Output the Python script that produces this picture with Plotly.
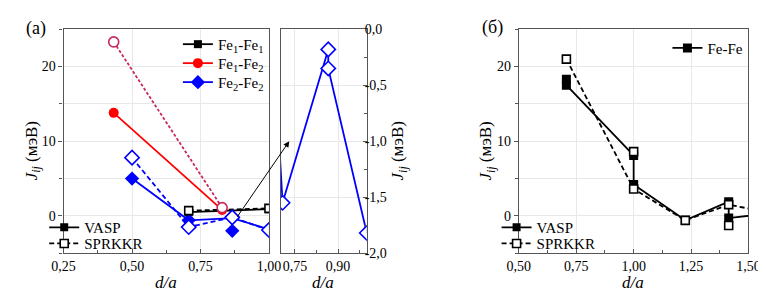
import plotly.graph_objects as go

# ---------------- data: panel (a) ----------------
fe11_x_vasp = [0.707, 1.0]
fe11_y_vasp = [0.5, 0.9]
fe11_x_spr = [0.707, 1.0]
fe11_y_spr = [0.7, 1.0]

fe12_x_vasp = [0.433, 0.829]
fe12_y_vasp = [13.8, 0.8]
fe12_x_spr = [0.433, 0.829]
fe12_y_spr = [23.3, 1.1]

fe22_x_vasp = [0.5, 0.707, 0.866, 1.0, None, 0.866]
fe22_y_vasp = [5.0, -0.6, -0.3, -1.8, None, -2.0]
fe22_x_spr = [0.5, 0.707, 0.866, 1.0]
fe22_y_spr = [7.8, -1.5, -0.2, -1.9]

# inset (zoom of Fe2-Fe2)
inset_x = [0.5, 0.707, 0.866, 0.866, 1.0]
inset_y = [7.8, -1.55, -0.18, -0.35, -1.82]
inset_ytick_vals = [0.0, -0.5, -1.0, -1.5, -2.0]
inset_ytick_text = ["0,0", "-0,5", "-1,0", "-1,5", "-2,0"]

# ---------------- data: panel (б) ----------------
fefe_x_vasp = [0.707, 0.707, 1.0, 1.0, 1.225, 1.414, 1.414, 1.581]
fefe_y_vasp = [18.3, 17.5, 8.1, 4.2, -0.6, 1.9, -0.3, 0.3]
fefe_x_spr = [0.707, 1.0, 1.225, 1.414, 1.581, None, 1.0, None, 1.414]
fefe_y_spr = [21.0, 3.6, -0.6, 1.5, 0.5, None, 8.6, None, -1.3]

FONT = "Liberation Serif, Times New Roman, DejaVu Serif, serif"
BLACK = "#000000"
RED = "#FF0000"
PINK = "#C8285F"
BLUE = "#0000FF"
DASH = "5px,3px"
DOT = "3px,2px"

fig = go.Figure()

def open_marker(sym, color, size):
    return dict(symbol=sym, size=size, color="white", line=dict(color=color, width=1.6))

def filled_marker(sym, color, size):
    return dict(symbol=sym, size=size, color=color, line=dict(color=color, width=0))

# ---- panel (a) traces ----
fig.add_trace(go.Scatter(x=fe11_x_vasp, y=fe11_y_vasp, mode="lines+markers",
                         line=dict(color=BLACK, width=1.8), marker=filled_marker("square", BLACK, 8),
                         name="Fe<sub>1</sub>-Fe<sub>1</sub>", legend="legend", xaxis="x", yaxis="y"))
fig.add_trace(go.Scatter(x=fe12_x_vasp, y=fe12_y_vasp, mode="lines+markers",
                         line=dict(color=RED, width=1.8), marker=filled_marker("circle", RED, 10),
                         name="Fe<sub>1</sub>-Fe<sub>2</sub>", legend="legend7", xaxis="x", yaxis="y"))
fig.add_trace(go.Scatter(x=fe22_x_vasp, y=fe22_y_vasp, mode="lines+markers",
                         line=dict(color=BLUE, width=1.8), marker=filled_marker("diamond", BLUE, 11),
                         name="Fe<sub>2</sub>-Fe<sub>2</sub>", legend="legend8", xaxis="x", yaxis="y"))
fig.add_trace(go.Scatter(x=fe11_x_spr, y=fe11_y_spr, mode="lines+markers",
                         line=dict(color=BLACK, width=1.8, dash=DASH), marker=open_marker("square", BLACK, 8),
                         showlegend=False, xaxis="x", yaxis="y"))
fig.add_trace(go.Scatter(x=fe12_x_spr, y=fe12_y_spr, mode="lines+markers",
                         line=dict(color=PINK, width=1.8, dash=DOT), marker=open_marker("circle", PINK, 10),
                         showlegend=False, xaxis="x", yaxis="y"))
fig.add_trace(go.Scatter(x=fe22_x_spr, y=fe22_y_spr, mode="lines+markers",
                         line=dict(color=BLUE, width=1.8, dash=DASH), marker=open_marker("diamond", BLUE, 11),
                         showlegend=False, xaxis="x", yaxis="y"))

# method keys for panel (a)
fig.add_trace(go.Scatter(x=[None], y=[None], mode="lines+markers", name="VASP",
                         line=dict(color=BLACK, width=1.8), marker=filled_marker("square", BLACK, 8),
                         legend="legend2", xaxis="x", yaxis="y"))
fig.add_trace(go.Scatter(x=[None], y=[None], mode="lines+markers", name="SPRKKR",
                         line=dict(color=BLACK, width=1.8, dash=DASH), marker=open_marker("square", BLACK, 8),
                         legend="legend5", xaxis="x", yaxis="y"))

# ---- inset ----
fig.add_trace(go.Scatter(x=inset_x, y=inset_y, mode="lines+markers",
                         line=dict(color=BLUE, width=1.8), marker=open_marker("diamond", BLUE, 11),
                         showlegend=False, xaxis="x2", yaxis="y2"))

# ---- panel (б) ----
fig.add_trace(go.Scatter(x=fefe_x_vasp, y=fefe_y_vasp, mode="lines+markers",
                         line=dict(color=BLACK, width=1.8), marker=filled_marker("square", BLACK, 9),
                         name="Fe-Fe", legend="legend3", xaxis="x3", yaxis="y3"))
fig.add_trace(go.Scatter(x=fefe_x_spr, y=fefe_y_spr, mode="lines+markers",
                         line=dict(color=BLACK, width=1.8, dash=DASH), marker=open_marker("square", BLACK, 8),
                         showlegend=False, xaxis="x3", yaxis="y3"))
fig.add_trace(go.Scatter(x=[None], y=[None], mode="lines+markers", name="VASP",
                         line=dict(color=BLACK, width=1.8), marker=filled_marker("square", BLACK, 8),
                         legend="legend4", xaxis="x3", yaxis="y3"))
fig.add_trace(go.Scatter(x=[None], y=[None], mode="lines+markers", name="SPRKKR",
                         line=dict(color=BLACK, width=1.8, dash=DASH), marker=open_marker("square", BLACK, 8),
                         legend="legend6", xaxis="x3", yaxis="y3"))

AX = dict(showline=True, linecolor="#555555", linewidth=1.2, mirror=True,
          gridcolor="#E8E8E8", gridwidth=1, zeroline=False, ticklen=4, tickcolor="#555555",
          tickfont=dict(family=FONT, size=14, color=BLACK))

TOP, BOT = 1 - 15 / 294, 1 - 251 / 294

def leg(x, y, xanchor="left"):
    return dict(x=x / 766, y=1 - y / 294, xanchor=xanchor, yanchor="middle", bgcolor="rgba(0,0,0,0)",
                font=dict(family=FONT, size=15, color=BLACK), itemwidth=30, tracegroupgap=0)

fig.update_layout(
    width=766, height=294, margin=dict(l=0, r=0, t=0, b=0),
    paper_bgcolor="white", plot_bgcolor="white", separators=", ",
    font=dict(family=FONT, size=14, color=BLACK),
    xaxis=dict(AX, domain=[45 / 766, 257 / 766], range=[0.25, 1.0], dtick=0.25, tick0=0.25,
               tickformat=".2f", ticks="inside", anchor="y",
               minor=dict(dtick=0.125, ticks="inside", ticklen=3, showgrid=False)),
    yaxis=dict(AX, domain=[BOT, TOP], range=[-5, 25], dtick=10, tick0=0, ticks="outside", anchor="x",
               minor=dict(dtick=5, ticks="outside", ticklen=3, showgrid=True, gridcolor="#E8E8E8")),
    xaxis2=dict(AX, domain=[269 / 766, 358 / 766], range=[0.70, 1.0], dtick=0.15, tick0=0.75,
                tickformat=".2f", ticks="inside", anchor="y2",
                minor=dict(dtick=0.075, ticks="inside", ticklen=3, showgrid=False)),
    yaxis2=dict(AX, domain=[BOT, TOP], range=[-2.0, 0.0], tickmode="array",
                tickvals=inset_ytick_vals, ticktext=inset_ytick_text,
                side="right", ticks="inside", anchor="x2", ticklabelstandoff=-6,
                minor=dict(dtick=0.25, ticks="inside", ticklen=3, showgrid=False)),
    xaxis3=dict(AX, domain=[515 / 766, 752 / 766], range=[0.5, 1.5], dtick=0.25, tick0=0.5,
                tickformat=".2f", ticks="inside", anchor="y3",
                minor=dict(dtick=0.125, ticks="inside", ticklen=3, showgrid=False)),
    yaxis3=dict(AX, domain=[BOT, TOP], range=[-5, 25], dtick=10, tick0=0, ticks="outside", anchor="x3",
                minor=dict(dtick=5, ticks="outside", ticklen=3, showgrid=True, gridcolor="#E8E8E8")),
    legend=leg(163, 31),
    legend7=leg(163, 51),
    legend8=leg(163, 71),
    legend2=leg(25, 224),
    legend5=leg(25, 241),
    legend3=leg(752, 35, "right"),
    legend4=leg(492, 224),
    legend6=leg(492, 241),
)

ann_font = dict(family=FONT, size=18, color=BLACK)
title_font = dict(family=FONT, size=17, color=BLACK)
ylab = "<i>J</i><sub><i>ij</i></sub> (мэВ)"
fig.add_annotation(text="(a)", x=4 / 766, y=1 - 14 / 294, xref="paper", yref="paper",
                   showarrow=False, xanchor="left", yanchor="middle", font=ann_font)
fig.add_annotation(text="(б)", x=475 / 766, y=1 - 13 / 294, xref="paper", yref="paper",
                   showarrow=False, xanchor="left", yanchor="middle", font=ann_font)
for xc in [151, 313, 633]:
    fig.add_annotation(text="<i>d/a</i>", x=xc / 766, y=1 - 282 / 294, xref="paper", yref="paper",
                       showarrow=False, xanchor="center", yanchor="middle", font=title_font)
for xc in [13, 391, 482]:
    fig.add_annotation(text=ylab, x=xc / 766, y=1 - 143 / 294, xref="paper", yref="paper",
                       showarrow=False, xanchor="center", yanchor="middle", textangle=-90, font=title_font)

# arrow pointing from main panel to inset
fig.add_annotation(x=278 / 766, y=1 - 133 / 294, xref="paper", yref="paper", text="",
                   showarrow=True, ax=-53, ay=77, arrowhead=2, arrowsize=1.2, arrowwidth=1,
                   arrowcolor=BLACK)

fig.write_html("out.html")
